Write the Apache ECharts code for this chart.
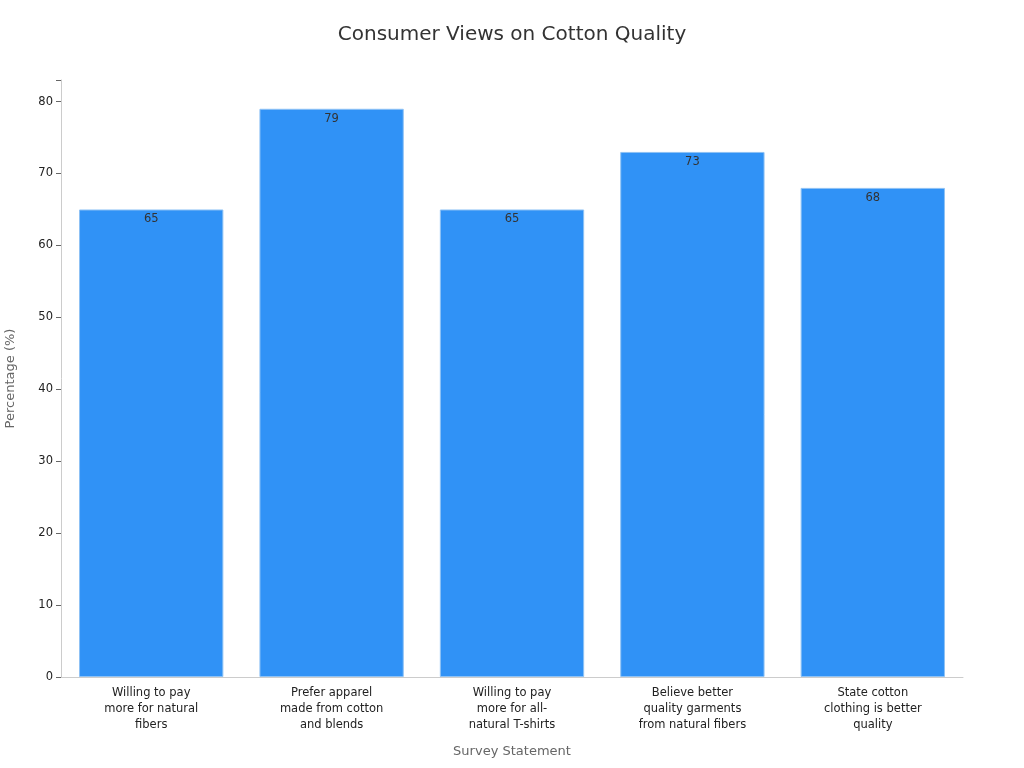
<!DOCTYPE html>
<html><head><meta charset="utf-8">
<script src="https://cdn.jsdelivr.net/npm/echarts@6/dist/echarts.min.js"></script>
<style>html,body{margin:0;padding:0;background:#fff}#c{width:1024px;height:768px}</style>
</head><body><div id="c"></div>
<script>
const categories = ["Willing to pay\nmore for natural\nfibers","Prefer apparel\nmade from cotton\nand blends","Willing to pay\nmore for all-\nnatural T-shirts","Believe better\nquality garments\nfrom natural fibers","State cotton\nclothing is better\nquality"];
const values = [65, 79, 65, 73, 68];
const chart = echarts.init(document.getElementById('c'));
chart.setOption({
  animation:false,
  title:{text:'Consumer Views on Cotton Quality',left:'center',top:20,textStyle:{fontFamily:'DejaVu Sans',fontSize:20,fontWeight:'normal',color:'#333'}},
  grid:{left:61,right:61,top:80,bottom:91,outerBoundsMode:'none'},
  xAxis:{type:'category',data:categories,name:'Survey Statement',nameLocation:'middle',nameGap:68,
    nameTextStyle:{fontFamily:'DejaVu Sans',fontSize:13,color:'#666'},
    axisLine:{lineStyle:{color:'#ccc'}},axisTick:{alignWithLabel:true,lineStyle:{color:'#666'}},
    axisLabel:{fontFamily:'DejaVu Sans',fontSize:11.5,color:'#222',lineHeight:16,interval:0}},
  yAxis:{type:'value',min:0,max:83,interval:10,name:'Percentage (%)',nameLocation:'middle',nameGap:44,
    nameTextStyle:{fontFamily:'DejaVu Sans',fontSize:13,color:'#666'},
    axisLine:{show:true,lineStyle:{color:'#ccc'}},axisTick:{show:true,lineStyle:{color:'#666'}},
    splitLine:{show:false},
    axisLabel:{fontFamily:'DejaVu Sans',fontSize:11.5,color:'#222',formatter:v=>v%10===0?v:''}},
  series:[{type:'bar',data:values,barCategoryGap:'20%',
    itemStyle:{color:'#3092f6',borderColor:'#8ec2f5',borderWidth:1},
    label:{show:true,position:'insideTop',distance:4,fontFamily:'DejaVu Sans',fontSize:11.5,color:'#333'}}]
});
</script></body></html>
